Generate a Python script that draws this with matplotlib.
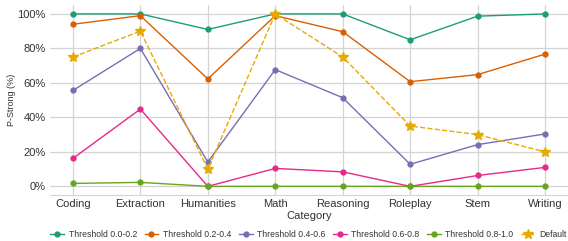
import matplotlib
matplotlib.use("Agg")
import matplotlib.pyplot as plt

categories = ["Coding", "Extraction", "Humanities", "Math", "Reasoning", "Roleplay", "Stem", "Writing"]

t_00_02 = [100, 100, 91, 100, 100, 85, 98.7, 100]
t_02_04 = [94, 99, 62.3, 99, 89.7, 60.7, 64.8, 76.7]
t_04_06 = [55.6, 80, 14.1, 67.7, 51.4, 12.8, 24.2, 30.4]
t_06_08 = [16.2, 44.8, 0, 10.4, 8.4, 0, 6.3, 11]
t_08_10 = [1.7, 2.3, 0, 0, 0, 0, 0, 0]
default = [75, 90, 10, 100, 75, 35, 30, 20]

series = [
    ("Threshold 0.0-0.2", t_00_02, "#1b9e77"),
    ("Threshold 0.2-0.4", t_02_04, "#d95f02"),
    ("Threshold 0.4-0.6", t_04_06, "#7570b3"),
    ("Threshold 0.6-0.8", t_06_08, "#e7298a"),
    ("Threshold 0.8-1.0", t_08_10, "#66a61e"),
]

plt.rcParams["font.family"] = ["Liberation Sans", "DejaVu Sans"]

fig = plt.figure(figsize=(5.68, 2.41), dpi=100)
ax = fig.add_axes([0.088, 0.191, 0.912, 0.787])

x = list(range(len(categories)))
for label, vals, color in series:
    ax.plot(x, vals, "-o", color=color, linewidth=1.0, markersize=3.5, label=label)
ax.plot(x, default, "--*", color="#e6ab02", linewidth=1.0, markersize=7, label="Default")

ax.set_xlim(-0.34, 7.34)
ax.set_ylim(-5, 105)
ax.set_xticks(x)
ax.set_xticklabels(categories, fontsize=8, color="#333333")
ax.set_yticks([0, 20, 40, 60, 80, 100])
ax.set_yticklabels([f"{v}%" for v in [0, 20, 40, 60, 80, 100]], fontsize=8, color="#333333")
ax.tick_params(length=0, pad=3)
ax.grid(color="#d4d4d4", linewidth=0.9)
ax.set_axisbelow(True)
for s in ["left", "top", "right"]:
    ax.spines[s].set_visible(False)
ax.spines["bottom"].set_color("#d4d4d4")
ax.set_xlabel("Category", fontsize=8, color="#333333", labelpad=1)
ax.set_ylabel("P-Strong (%)", fontsize=6.5, color="#333333", labelpad=1)

fig.legend(loc="center left", bbox_to_anchor=(0.075, 0.028), ncol=6, frameon=False,
           fontsize=6.2, handlelength=1.6, columnspacing=0.85, handletextpad=0.55,
           labelcolor="#333333")

fig.savefig("out.png", dpi=100)
